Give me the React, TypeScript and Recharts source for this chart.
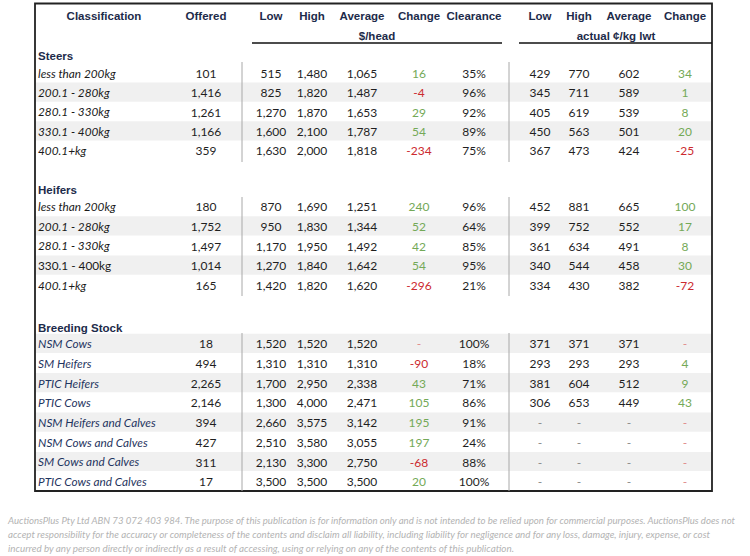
import React from 'react';
import { ScatterChart, Scatter, XAxis, YAxis, ReferenceArea, ReferenceLine } from 'recharts';

// ---------------- DATA ----------------
const headerCols = ['Offered', 'Low', 'High', 'Average', 'Change', 'Clearance', 'Low', 'High', 'Average', 'Change'];

const steersLabels = ['less than 200kg', '200.1 - 280kg', '280.1 - 330kg', '330.1 - 400kg', '400.1+kg'];
const steersOffered = [101, 1416, 1261, 1166, 359];
const steersLowHead = [515, 825, 1270, 1600, 1630];
const steersHighHead = [1480, 1820, 1870, 2100, 2000];
const steersAvgHead = [1065, 1487, 1653, 1787, 1818];
const steersChangeHead = [16, -4, 29, 54, -234];
const steersClearance = [35, 96, 92, 89, 75];
const steersLowKg = [429, 345, 405, 450, 367];
const steersHighKg = [770, 711, 619, 563, 473];
const steersAvgKg = [602, 589, 539, 501, 424];
const steersChangeKg = [34, 1, 8, 20, -25];

const heifersLabels = ['less than 200kg', '200.1 - 280kg', '280.1 - 330kg', '330.1 - 400kg', '400.1+kg'];
const heifersOffered = [180, 1752, 1497, 1014, 165];
const heifersLowHead = [870, 950, 1170, 1270, 1420];
const heifersHighHead = [1690, 1830, 1950, 1840, 1820];
const heifersAvgHead = [1251, 1344, 1492, 1642, 1620];
const heifersChangeHead = [240, 52, 42, 54, -296];
const heifersClearance = [96, 64, 85, 95, 21];
const heifersLowKg = [452, 399, 361, 340, 334];
const heifersHighKg = [881, 752, 634, 544, 430];
const heifersAvgKg = [665, 552, 491, 458, 382];
const heifersChangeKg = [100, 17, 8, 30, -72];

const breedingLabels = ['NSM Cows', 'SM Heifers', 'PTIC Heifers', 'PTIC Cows', 'NSM Heifers and Calves', 'NSM Cows and Calves', 'SM Cows and Calves', 'PTIC Cows and Calves'];
const breedingOffered = [18, 494, 2265, 2146, 394, 427, 311, 17];
const breedingLowHead = [1520, 1310, 1700, 1300, 2660, 2510, 2130, 3500];
const breedingHighHead = [1520, 1310, 2950, 4000, 3575, 3580, 3300, 3500];
const breedingAvgHead = [1520, 1310, 2338, 2471, 3142, 3055, 2750, 3500];
const breedingChangeHead: (number | null)[] = [null, -90, 43, 105, 195, 197, -68, 20];
const breedingClearance = [100, 18, 71, 86, 91, 24, 88, 100];
const breedingLowKg: (number | null)[] = [371, 293, 381, 306, null, null, null, null];
const breedingHighKg: (number | null)[] = [371, 293, 604, 653, null, null, null, null];
const breedingAvgKg: (number | null)[] = [371, 293, 512, 449, null, null, null, null];
const breedingChangeKg: (number | null)[] = [null, 4, 9, 43, null, null, null, null];

const footerLines = [
  'AuctionsPlus Pty Ltd ABN 73 072 403 984. The purpose of this publication is for information only and is not intended to be relied upon for commercial purposes. AuctionsPlus does not',
  'accept responsibility for the accuracy or completeness of the contents and disclaim all liability, including liability for negligence and for any loss, damage, injury, expense, or cost',
  'incurred by any person directly or indirectly as a result of accessing, using or relying on any of the contents of this publication.',
];

// ---------------- LAYOUT ----------------
const W = 750;
const H = 556;
const COLX = [206, 271, 312, 362, 419, 474, 540, 579, 629, 685];
const LABEL_X = 38;
const NAVY = '#1d2b4a';

type Cell = { x: number; y: number; text: string; kind: string; len?: number };

const STYLES: Record<string, any> = {
  header: { family: '"Liberation Sans", Arial, sans-serif', size: 11.5, weight: 700, style: 'normal', color: NAVY, anchor: 'middle' },
  title: { family: '"Liberation Sans", Arial, sans-serif', size: 11.5, weight: 700, style: 'normal', color: NAVY, anchor: 'start' },
  label: { family: 'Lato, sans-serif', size: 11.8, weight: 400, style: 'italic', color: '#1a1a1a', anchor: 'start' },
  labelUp: { family: 'Lato, sans-serif', size: 11.8, weight: 400, style: 'normal', color: '#1a1a1a', anchor: 'start' },
  labelBlue: { family: 'Lato, sans-serif', size: 11.8, weight: 400, style: 'italic', color: '#1f3560', anchor: 'start' },
  num: { family: 'Lato, sans-serif', size: 12, weight: 400, style: 'normal', color: '#1f1f1f', anchor: 'middle' },
  pos: { family: 'Lato, sans-serif', size: 12, weight: 400, style: 'normal', color: '#74a957', anchor: 'middle' },
  neg: { family: 'Lato, sans-serif', size: 12, weight: 400, style: 'normal', color: '#cc2a2f', anchor: 'middle' },
  dash: { family: 'Lato, sans-serif', size: 12, weight: 400, style: 'normal', color: '#8a8a8a', anchor: 'middle' },
  dashRed: { family: 'Lato, sans-serif', size: 12, weight: 400, style: 'normal', color: '#e08a8a', anchor: 'middle' },
  footer: { family: 'Lato, sans-serif', size: 9.8, weight: 400, style: 'italic', color: '#b3b3b3', anchor: 'start' },
};

const fmt = (v: number) => v.toLocaleString('en-US');

const sections = [
  {
    title: 'Steers', titleY: 55.5, y0: 73.3, step: 19.45, labels: steersLabels, labelKinds: ['label', 'label', 'label', 'label', 'label'],
    cols: [steersOffered, steersLowHead, steersHighHead, steersAvgHead, steersChangeHead, steersClearance, steersLowKg, steersHighKg, steersAvgKg, steersChangeKg],
    shaded: [1, 3], sep: [62, 162],
  },
  {
    title: 'Heifers', titleY: 189.5, y0: 207, step: 19.6, labels: heifersLabels, labelKinds: ['label', 'label', 'label', 'labelUp', 'label'],
    cols: [heifersOffered, heifersLowHead, heifersHighHead, heifersAvgHead, heifersChangeHead, heifersClearance, heifersLowKg, heifersHighKg, heifersAvgKg, heifersChangeKg],
    shaded: [1, 3], sep: [197, 296],
  },
  {
    title: 'Breeding Stock', titleY: 327.5, y0: 344, step: 19.7, labels: breedingLabels, labelKinds: breedingLabels.map(() => 'labelBlue'),
    cols: [breedingOffered, breedingLowHead, breedingHighHead, breedingAvgHead, breedingChangeHead, breedingClearance, breedingLowKg, breedingHighKg, breedingAvgKg, breedingChangeKg],
    shaded: [0, 2, 4, 6], sep: [333, 491],
  },
];

const cells: Cell[] = [];
cells.push({ x: 104, y: 16, text: 'Classification', kind: 'header' });
headerCols.forEach((h, i) => cells.push({ x: COLX[i], y: 16, text: h, kind: 'header' }));
cells.push({ x: 377, y: 35.5, text: '$/head', kind: 'header' });
cells.push({ x: 616, y: 35.5, text: 'actual ¢/kg lwt', kind: 'header' });

const bands: { y1: number; y2: number }[] = [];
sections.forEach((s) => {
  cells.push({ x: LABEL_X, y: s.titleY, text: s.title, kind: 'title' });
  s.labels.forEach((lab, r) => {
    const y = s.y0 + r * s.step;
    cells.push({ x: LABEL_X, y, text: lab, kind: s.labelKinds[r] });
    if (s.shaded.includes(r)) bands.push({ y1: y - 10.3, y2: y + 8.9 });
    s.cols.forEach((col, c) => {
      const v = col[r] as number | null;
      const isChange = c === 4 || c === 9;
      const isClear = c === 5;
      let text: string;
      let kind: string;
      if (v === null || v === undefined) {
        text = '-';
        kind = isChange ? 'dashRed' : 'dash';
      } else if (isChange) {
        text = fmt(v);
        kind = v < 0 ? 'neg' : 'pos';
      } else if (isClear) {
        text = `${v}%`;
        kind = 'num';
      } else {
        text = fmt(v);
        kind = 'num';
      }
      cells.push({ x: COLX[c], y, text, kind });
    });
  });
});

const footerLens = [727, 702, 506];
footerLines.forEach((t, i) => cells.push({ x: 8, y: 520 + i * 14, text: t, kind: 'footer', len: footerLens[i] }));

const renderCell = (props: any) => {
  const { cx, cy, payload } = props;
  const st = STYLES[payload.kind];
  return (
    <text
      x={cx}
      y={cy + st.size * 0.36}
      textAnchor={st.anchor}
      fontFamily={st.family}
      fontSize={st.size}
      fontWeight={st.weight}
      fontStyle={st.style}
      fill={st.color}
      {...(payload.len ? { textLength: payload.len, lengthAdjust: 'spacingAndGlyphs' } : {})}
    >
      {payload.text}
    </text>
  );
};

export default function App() {
  return (
    <div style={{ position: 'absolute', left: 0, top: 0, width: W, height: H, background: '#fff' }}>
      <ScatterChart width={W} height={H} margin={{ top: 0, right: 0, bottom: 0, left: 0 }}>
        <XAxis type="number" dataKey="x" domain={[0, W]} hide allowDataOverflow />
        <YAxis type="number" dataKey="y" domain={[0, H]} reversed hide allowDataOverflow />
        {bands.map((b, i) => (
          <ReferenceArea key={`b${i}`} x1={36} x2={711} y1={b.y1} y2={b.y2} fill="#f0f0f0" fillOpacity={1} stroke="none" />
        ))}
        {sections.map((s, i) => (
          <ReferenceLine key={`s1${i}`} segment={[{ x: 242, y: s.sep[0] }, { x: 242, y: s.sep[1] }]} stroke="#a8a8a8" strokeWidth={1} />
        ))}
        {sections.map((s, i) => (
          <ReferenceLine key={`s2${i}`} segment={[{ x: 509, y: s.sep[0] }, { x: 509, y: s.sep[1] }]} stroke="#a8a8a8" strokeWidth={1} />
        ))}
        <ReferenceLine segment={[{ x: 252, y: 43 }, { x: 502, y: 43 }]} stroke="#111" strokeWidth={1.5} />
        <ReferenceLine segment={[{ x: 519, y: 43 }, { x: 712, y: 43 }]} stroke="#111" strokeWidth={1.5} />
        <ReferenceArea x1={35} x2={712} y1={3.5} y2={491} fill="none" stroke="#222" strokeWidth={1.8} />
        <Scatter data={cells} shape={renderCell} isAnimationActive={false} />
      </ScatterChart>
    </div>
  );
}
